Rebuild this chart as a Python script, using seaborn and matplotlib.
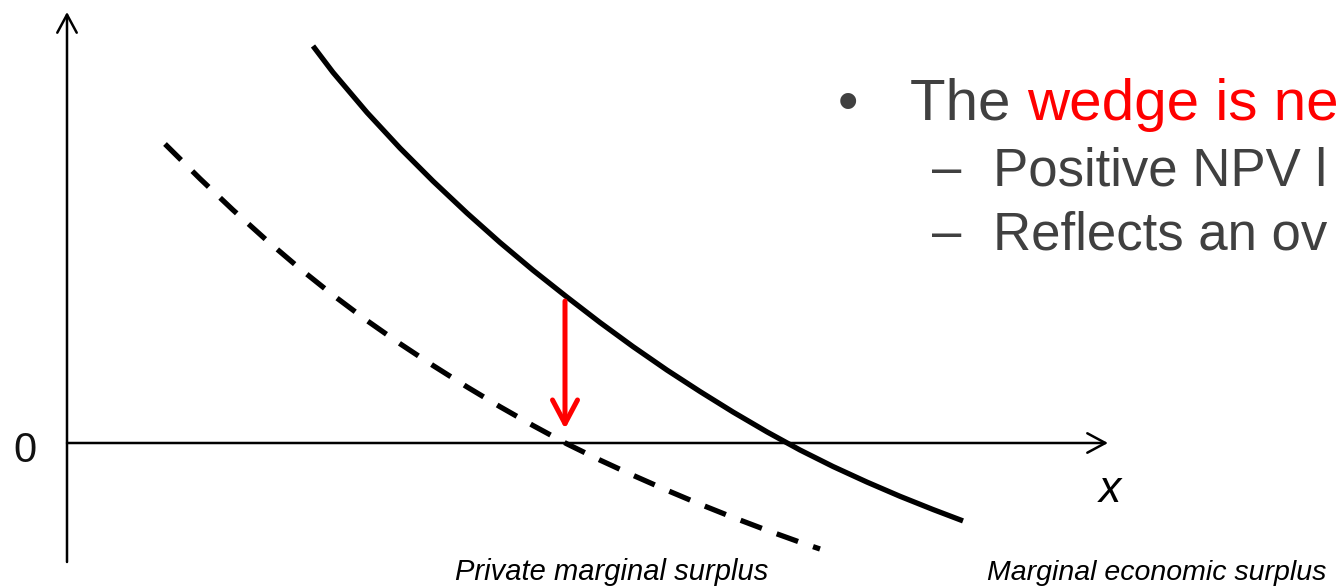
import numpy as np
import pandas as pd
import matplotlib
matplotlib.use("Agg")
import matplotlib.pyplot as plt
import seaborn as sns

# Marginal economic surplus (solid curve): quantity x vs. surplus
econ_x = [246, 266, 300, 333, 366, 400, 433, 466, 500, 533, 566,
          600, 633, 666, 700, 733, 766, 800, 833, 866, 896]
econ_y = [397, 370.6, 330.5, 294.9, 261.9, 229.9, 200.5, 172.8, 145.9, 120.5, 96.4,
          72.9, 51.5, 31.0, 11.1, -7.0, -23.5, -39.1, -53.3, -66.5, -77.9]

# Private marginal surplus (dashed curve)
priv_x = [98, 133, 166, 200, 233, 266, 300, 333, 366, 400, 433,
          466, 500, 533, 566, 600, 633, 666, 700, 733, 753]
priv_y = [299, 264.3, 233, 202.4, 174.3, 147.9, 122.4, 99.3, 77.5, 56.1, 36.3,
          17.5, -0.9, -17.1, -32.3, -47.3, -61.2, -74.4, -87.3, -99.2, -106]

# Quantity at which the wedge between the two curves is shown
wedge_x = 498

zero_label = "0"
x_label = "x"
econ_label = "Marginal economic surplus"
priv_label = "Private marginal surplus"
bullet_head = "The "
bullet_red = "wedge is ne"
sub_items = ["Positive NPV l", "Reflects an ov"]

sns.set_theme(style="white")
plt.rcParams["font.family"] = ["Liberation Sans", "DejaVu Sans"]

fig = plt.figure(figsize=(13.36, 5.87), dpi=100)
ax = fig.add_axes([0, 0, 1, 1])
ax.set_xlim(-67, 1269)
ax.set_ylim(-144, 443)
ax.set_axis_off()

econ = pd.DataFrame({"x": econ_x, "y": econ_y})
priv = pd.DataFrame({"x": priv_x, "y": priv_y})

sns.lineplot(data=econ, x="x", y="y", ax=ax, color="black", lw=3.8,
             solid_capstyle="butt", solid_joinstyle="round")
sns.lineplot(data=priv, x="x", y="y", ax=ax, color="black", lw=3.8,
             linestyle=(0, (4.3, 3.0)), dash_capstyle="butt")

# Coordinate axes with open arrowheads
axis_style = "->,head_length=13,head_width=7"
ax.annotate("", xy=(0, 431), xytext=(0, -119),
            arrowprops=dict(arrowstyle=axis_style, lw=1.8, color="black",
                            shrinkA=0, shrinkB=0, mutation_scale=1))
ax.annotate("", xy=(1041, 0), xytext=(0, 0),
            arrowprops=dict(arrowstyle=axis_style, lw=1.8, color="black",
                            shrinkA=0, shrinkB=0, mutation_scale=1))

# Red wedge arrow from the economic curve down to the private curve
top = np.interp(wedge_x, econ_x, econ_y)
bottom = np.interp(wedge_x, priv_x, priv_y)
ax.annotate("", xy=(wedge_x, bottom), xytext=(wedge_x, top),
            arrowprops=dict(arrowstyle="->,head_length=17,head_width=9",
                            lw=3.6, color="#ff0000", shrinkA=4, shrinkB=10,
                            mutation_scale=1))

ax.text(-42, -19, zero_label, fontsize=30, color="#111111", ha="center", va="baseline")
ax.text(1043, -59, x_label, fontsize=32, style="italic", color="black",
        ha="center", va="baseline")
ax.text(388, -137, priv_label, fontsize=21, style="italic", color="black",
        ha="left", va="baseline")
ax.text(920, -137, econ_label, fontsize=20.5, style="italic", color="black",
        ha="left", va="baseline")

# Bullet text
gray = "#404040"
ax.text(781, 323, "\u2022", fontsize=42, color=gray, ha="center", va="baseline")
t1 = ax.text(843, 323, bullet_head, fontsize=42, color=gray, ha="left", va="baseline")
ax.annotate(bullet_red, xy=(1, 0), xycoords=t1, fontsize=42, color="#ff0000",
            ha="left", va="bottom")
for yb, item in zip([258, 194], sub_items):
    ax.text(865, yb, "\u2013", fontsize=38, color=gray, ha="left", va="baseline")
    ax.text(926, yb, item, fontsize=38, color=gray, ha="left", va="baseline")

fig.savefig("out.png", dpi=100)
